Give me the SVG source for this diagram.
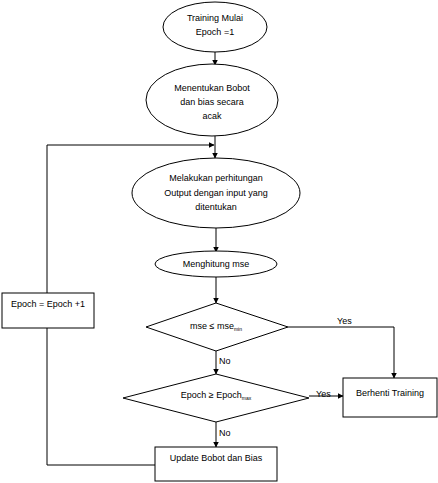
<svg xmlns="http://www.w3.org/2000/svg" width="438" height="483" viewBox="0 0 438 483" xml:space="preserve">
<defs>
<marker id="ah" markerWidth="6" markerHeight="6" refX="5.5" refY="3" orient="auto" markerUnits="userSpaceOnUse">
<path d="M0,0 L6,3 L0,6 Z" fill="#000"/>
</marker>
<style>
.s{fill:#fff;stroke:#000;stroke-width:1}
.c{fill:none;stroke:#000;stroke-width:1}
text{font-family:"Liberation Sans",Arial,sans-serif;font-size:9px;fill:#000;text-anchor:middle}
.l{text-anchor:start}
</style>
</defs>
<rect width="438" height="483" fill="#fff"/>
<g id="connectors">
<path class="c" d="M215,52 V65" marker-end="url(#ah)"/>
<path class="c" d="M215,136 V158" marker-end="url(#ah)"/>
<path class="c" d="M47,293 V145 H214" marker-end="url(#ah)"/>
<path class="c" d="M216,228 V252" marker-end="url(#ah)"/>
<path class="c" d="M216,277 V303" marker-end="url(#ah)"/>
<path class="c" d="M288,327 H394 V378" marker-end="url(#ah)"/>
<path class="c" d="M216,351 V374" marker-end="url(#ah)"/>
<path class="c" d="M309,396 H343" marker-end="url(#ah)"/>
<path class="c" d="M216,422 V447" marker-end="url(#ah)"/>
<path class="c" d="M155,465 H47 V328"/>
<text class="l" x="337" y="324">Yes</text>
<text class="l" x="219" y="364">No</text>
<text class="l" x="316" y="397">Yes</text>
<text class="l" x="219" y="436">No</text>
</g>
<g id="start">
<ellipse class="s" cx="215" cy="27" rx="52" ry="25"/>
<text x="215" y="21">Training Mulai</text>
<text x="215" y="35">Epoch =1</text>
</g>
<g id="init">
<ellipse class="s" cx="212" cy="100" rx="66" ry="36"/>
<text x="212" y="91">Menentukan Bobot</text>
<text x="212" y="105">dan bias secara</text>
<text x="212" y="119">acak</text>
</g>
<g id="compute">
<ellipse class="s" cx="216" cy="193" rx="84" ry="35"/>
<text x="216" y="181">Melakukan perhitungan</text>
<text x="216" y="196">Output dengan input  yang</text>
<text x="216" y="210">ditentukan</text>
</g>
<g id="mse">
<ellipse class="s" cx="216" cy="264" rx="61" ry="13"/>
<text x="216" y="267">Menghitung  mse</text>
</g>
<g id="cond1">
<polygon class="s" points="216,303 288,327 216,351 146,327"/>
<text x="216" y="329">mse ≤ mse<tspan font-size="5" dy="2">min</tspan></text>
</g>
<g id="cond2">
<polygon class="s" points="216,374 309,398 216,422 123,398"/>
<text x="216" y="398">Epoch ≥ Epoch<tspan font-size="5" dy="2">max</tspan></text>
</g>
<g id="stop">
<rect class="s" x="343" y="378" width="94" height="39"/>
<text x="390" y="396">Berhenti Training</text>
</g>
<g id="update">
<rect class="s" x="155" y="447" width="122" height="34"/>
<text x="216" y="461">Update Bobot  dan Bias</text>
</g>
<g id="increment">
<rect class="s" x="2" y="293" width="92" height="35"/>
<text x="48" y="307">Epoch = Epoch  +1</text>
</g>
</svg>
